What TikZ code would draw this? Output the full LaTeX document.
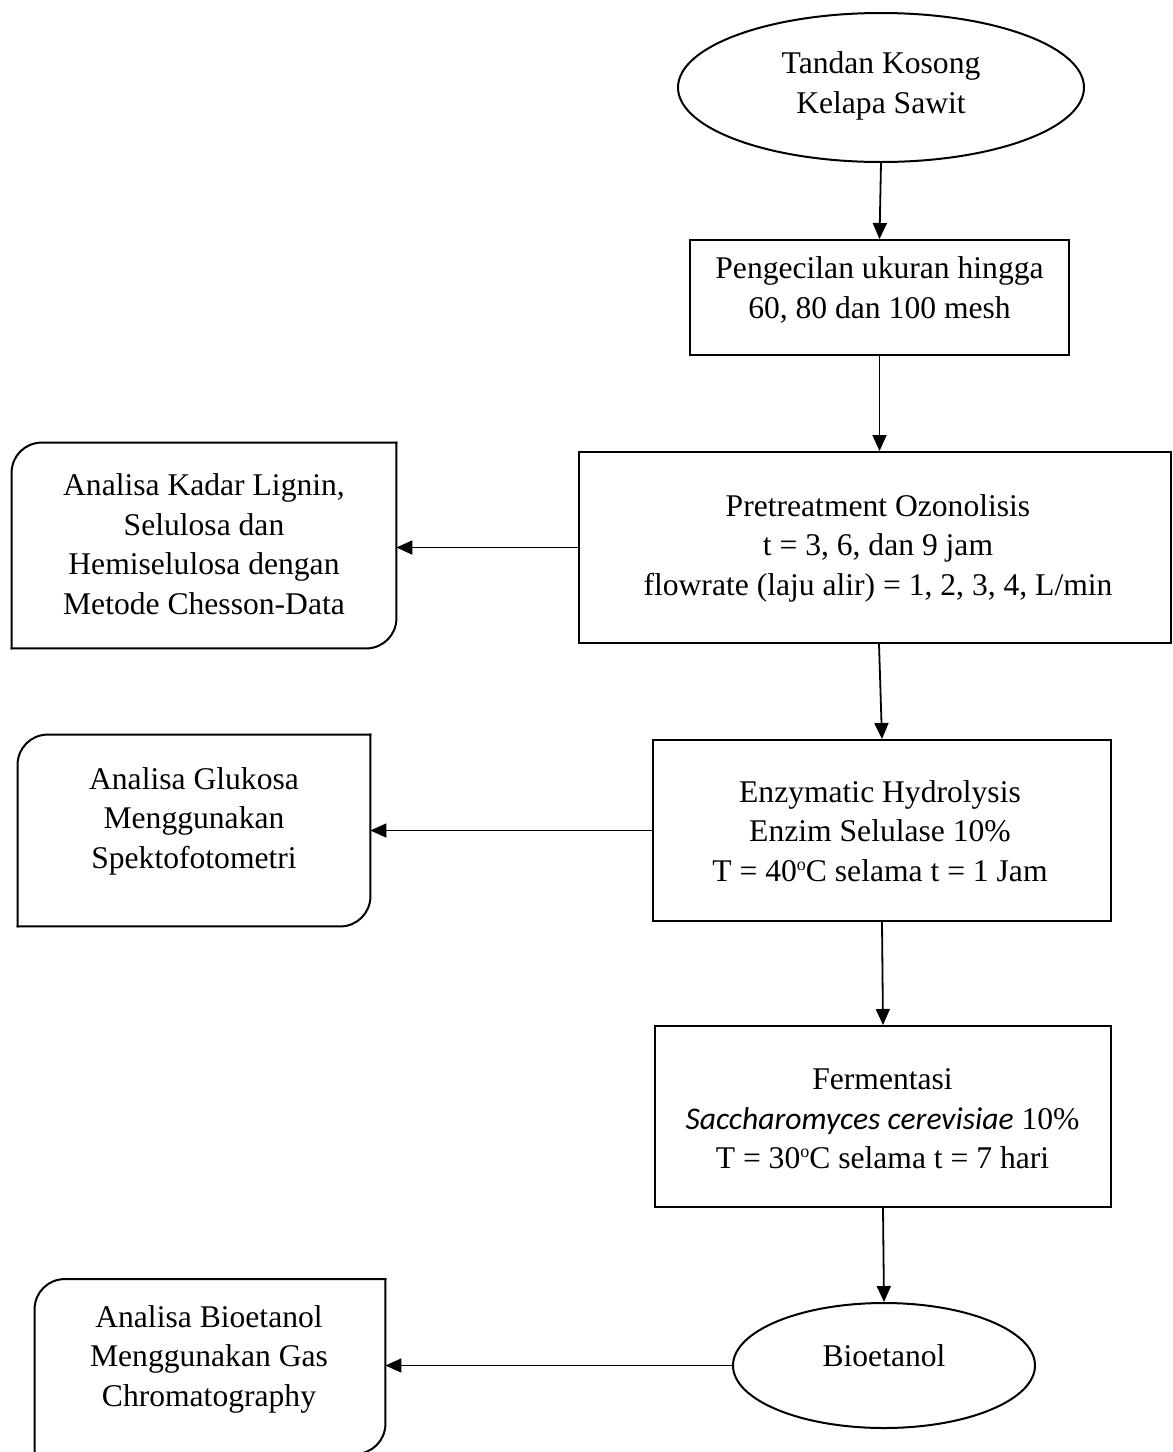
\documentclass[tikz,border=0pt]{standalone}
\usepackage{fontspec}
\setmainfont{Liberation Serif}
\newfontfamily\calit{Carlito}
\usetikzlibrary{shapes.geometric,arrows.meta}
\newcommand\degsup{\raisebox{0.75ex}{\fontsize{9}{9}\selectfont o}}
\begin{document}
\begin{tikzpicture}[x=0.5pt,y=-0.5pt,
  txt/.style={align=center,font=\fontsize{15.8}{19.75}\selectfont,inner sep=0pt},
  proc/.style={draw,line width=1pt,rectangle,inner sep=0pt},
  term/.style={draw,line width=1pt,ellipse,inner sep=0pt},
  side/.style={rectangle,inner sep=0pt},
  sideline/.style={line width=1pt,rounded corners=15pt,line cap=rect},
  arr/.style={-{Triangle[length=8pt,width=7pt]},line width=0.9pt}]
\path[use as bounding box] (0,0) rectangle (1173,1452);
\clip (0,0) rectangle (1173,1452);
% main column
\node[term,minimum width=203pt,minimum height=74.5pt] (e1) at (881,87.5) {};
\node[txt] (t1) at (881,86) {Tandan Kosong\\Kelapa Sawit};
\node[proc,minimum width=189.5pt,minimum height=57.5pt] (b2) at (879.5,297.5) {};
\node[txt] (t2) at (879.5,290) {Pengecilan ukuran hingga\\60, 80 dan 100 mesh};
\node[proc,minimum width=296pt,minimum height=95.5pt] (b3) at (875,547.5) {};
\node[txt] (t3) at (878,548) {Pretreatment Ozonolisis\\t = 3, 6, dan 9 jam\\flowrate (laju alir) = 1, 2, 3, 4, L/min};
\node[proc,minimum width=229pt,minimum height=90.5pt] (b4) at (882,830.5) {};
\node[txt] (t4) at (880,831) {Enzymatic Hydrolysis\\Enzim Selulase 10\%\\T = 40\degsup C selama t = 1 Jam};
\node[proc,minimum width=228pt,minimum height=90.5pt] (b5) at (883,1116.5) {};
\node[txt] (t5) at (882.5,1119) {Fermentasi\\{\calit\itshape Saccharomyces cerevisiae} 10\%\\T = 30\degsup C selama t = 7 hari};
\node[term,minimum width=151pt,minimum height=62.5pt] (e2) at (884,1365.5) {};
\node[txt] (t6) at (884,1356) {Bioetanol};
% side boxes
\node[side,minimum width=192pt,minimum height=102.5pt] (sa) at (204,545.5) {};
\node[txt] (ta) at (204,544) {Analisa Kadar Lignin,\\Selulosa dan\\Hemiselulosa dengan\\Metode Chesson-Data};
\node[side,minimum width=176pt,minimum height=95.5pt] (sb) at (194,830.5) {};
\node[txt] (tb) at (194,821) {Analisa Glukosa\\Menggunakan\\Spektofotometri};
\node[side,minimum width=175pt,minimum height=87pt] (sc) at (210,1366.5) {};
\node[txt] (tc) at (209,1359) {Analisa Bioetanol\\Menggunakan Gas\\Chromatography};
\foreach \n in {sa,sb,sc}{
  \draw[sideline] (\n.north east) -- (\n.north west) -- (\n.south west);
  \draw[sideline] (\n.south west) -- (\n.south east) -- (\n.north east);
}
% connectors
\draw[arr] (e1.south) -- (b2.north);
\draw[arr] (b2.south) -- (b2.south |- b3.north);
\draw[arr] (b3.west) -- (b3.west -| sa.east);
\draw[arr] ([xshift=2pt]b3.south) -- (b4.north);
\draw[arr] (b4.west) -- (b4.west -| sb.east);
\draw[arr] (b4.south) -- (b5.north);
\draw[arr] (b5.south) -- (e2.north);
\draw[arr] (e2.west) -- (e2.west -| sc.east);
\end{tikzpicture}
\end{document}
